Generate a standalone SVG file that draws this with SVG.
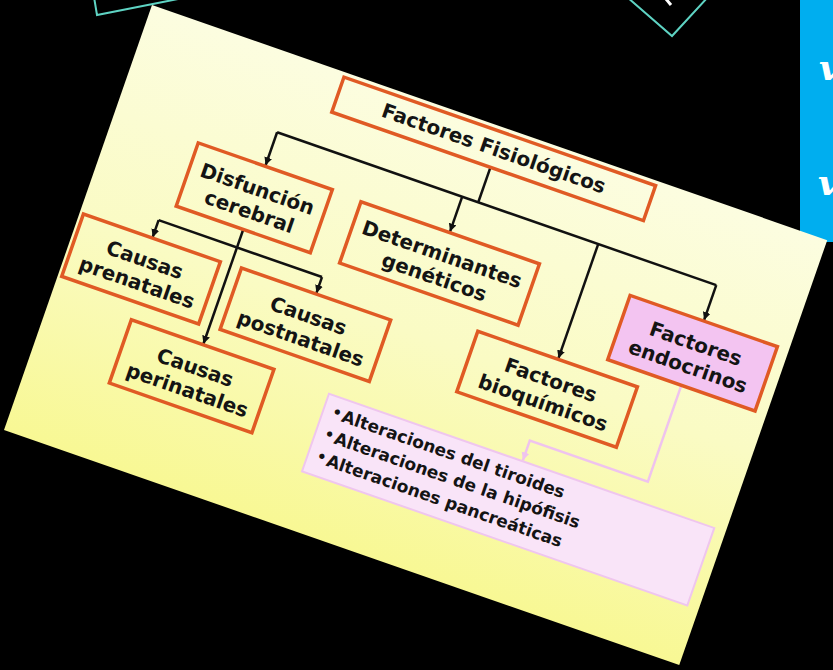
<svg xmlns="http://www.w3.org/2000/svg" width="833" height="670" viewBox="0 0 833 670">
  <defs>
    <linearGradient id="slideGrad" x1="0" y1="0" x2="0" y2="1">
      <stop offset="0" stop-color="#FCFDE0"/>
      <stop offset="0.5" stop-color="#FAFBC4"/>
      <stop offset="1" stop-color="#F8F894"/>
    </linearGradient>
    <marker id="arrow" markerUnits="userSpaceOnUse" markerWidth="9" markerHeight="9" refX="8" refY="4" orient="auto">
      <path d="M0,0 L8,4 L0,8 z" fill="#111"/>
    </marker>
    <marker id="arrowPink" markerUnits="userSpaceOnUse" markerWidth="9" markerHeight="9" refX="8" refY="4" orient="auto">
      <path d="M0,0 L8,4 L0,8 z" fill="#EFC3EE"/>
    </marker>
    <style>
      .box { fill: none; stroke: #E05A24; stroke-width: 3.5; }
      .pinkbox { fill: #F3C4F1; stroke: #E05A24; stroke-width: 3.5; }
      .listbox { fill: #F9E4F8; stroke: #EFC6EE; stroke-width: 2; }
      .lbl { font-family: "DejaVu Sans", "Liberation Sans", sans-serif; font-weight: bold; font-size: 20px; fill: #141414; text-anchor: middle; }
      .item { font-family: "DejaVu Sans", "Liberation Sans", sans-serif; font-weight: bold; font-size: 17px; fill: #141414; }
      .bullet { font-family: "DejaVu Sans", "Liberation Sans", sans-serif; font-weight: bold; font-size: 15px; fill: #141414; }
      .conn { fill: none; stroke: #111; stroke-width: 2.5; }
      .connPink { fill: none; stroke: #EFC3EE; stroke-width: 2.5; }
      .cyan { fill: none; stroke: #5ED3C3; stroke-width: 2; }
    </style>
  </defs>

  <rect x="0" y="0" width="833" height="670" fill="#000"/>

  <!-- partial decorations at the top -->
  <path class="cyan" d="M94,-3 L97,15 L178,-1"/>
  <path class="cyan" d="M627,-3 L672,36 L708,-3"/>
  <line x1="666" y1="-1" x2="671" y2="5" stroke="#fff" stroke-width="3"/>
  <rect x="800" y="-2" width="40" height="244" fill="#00AEEF"/>
  <text x="819" y="80" font-family="DejaVu Serif, serif" font-style="italic" font-weight="bold" font-size="36" fill="#fff">v</text>
  <text x="818" y="195" font-family="DejaVu Serif, serif" font-style="italic" font-weight="bold" font-size="36" fill="#fff">v</text>

  <g transform="translate(152,5) rotate(19.2)">
    <rect x="0" y="0" width="715" height="450" fill="url(#slideGrad)"/>

    <g id="connectors">
      <path class="conn" d="M373,42 V79"/>
      <path class="conn" d="M160,79 H625"/>
      <path class="conn" d="M160,79 V114" marker-end="url(#arrow)"/>
      <path class="conn" d="M356,79 V116" marker-end="url(#arrow)"/>
      <path class="conn" d="M500,79 V200" marker-end="url(#arrow)"/>
      <path class="conn" d="M625,79 V116" marker-end="url(#arrow)"/>
      <path class="conn" d="M160,182 V303" marker-end="url(#arrow)"/>
      <path class="conn" d="M77,201 H250"/>
      <path class="conn" d="M77,201 V219" marker-end="url(#arrow)"/>
      <path class="conn" d="M250,201 V218" marker-end="url(#arrow)"/>
      <path class="connPink" d="M625,186 V287 H500 V308" marker-end="url(#arrowPink)"/>
    </g>

    <g id="factores-fisiologicos">
      <rect class="box" x="205" y="5" width="330" height="37"/>
      <text class="lbl" x="370" y="30">Factores Fisiológicos</text>
    </g>
    <g id="disfuncion-cerebral">
      <rect class="box" x="89" y="115" width="142" height="67"/>
      <text class="lbl" x="160" y="146">Disfunción</text>
      <text class="lbl" x="160" y="170">cerebral</text>
    </g>
    <g id="determinantes-geneticos">
      <rect class="box" x="262" y="117" width="189" height="65"/>
      <text class="lbl" x="356" y="147">Determinantes</text>
      <text class="lbl" x="356" y="171">genéticos</text>
    </g>
    <g id="factores-bioquimicos">
      <rect class="box" x="415" y="201" width="169" height="64"/>
      <text class="lbl" x="500" y="230">Factores</text>
      <text class="lbl" x="500" y="254">bioquímicos</text>
    </g>
    <g id="factores-endocrinos">
      <rect class="pinkbox" x="547" y="117" width="156" height="68"/>
      <text class="lbl" x="625" y="148">Factores</text>
      <text class="lbl" x="625" y="172">endocrinos</text>
    </g>
    <g id="causas-prenatales">
      <rect class="box" x="4" y="220" width="145" height="66"/>
      <text class="lbl" x="77" y="250">Causas</text>
      <text class="lbl" x="77" y="274">prenatales</text>
    </g>
    <g id="causas-postnatales">
      <rect class="box" x="171" y="219" width="158" height="65"/>
      <text class="lbl" x="250" y="249">Causas</text>
      <text class="lbl" x="250" y="273">postnatales</text>
    </g>
    <g id="causas-perinatales">
      <rect class="box" x="84" y="304" width="151" height="67"/>
      <text class="lbl" x="160" y="335">Causas</text>
      <text class="lbl" x="160" y="359">perinatales</text>
    </g>
    <g id="alteraciones">
      <rect class="listbox" x="295" y="309" width="408" height="82"/>
      <text class="bullet" x="304" y="329">•</text>
      <text class="item" x="315" y="331">Alteraciones del tiroides</text>
      <text class="bullet" x="304" y="352.5">•</text>
      <text class="item" x="315" y="354.5">Alteraciones de la hipófisis</text>
      <text class="bullet" x="304" y="376">•</text>
      <text class="item" x="315" y="378">Alteraciones pancreáticas</text>
    </g>
  </g>
</svg>
